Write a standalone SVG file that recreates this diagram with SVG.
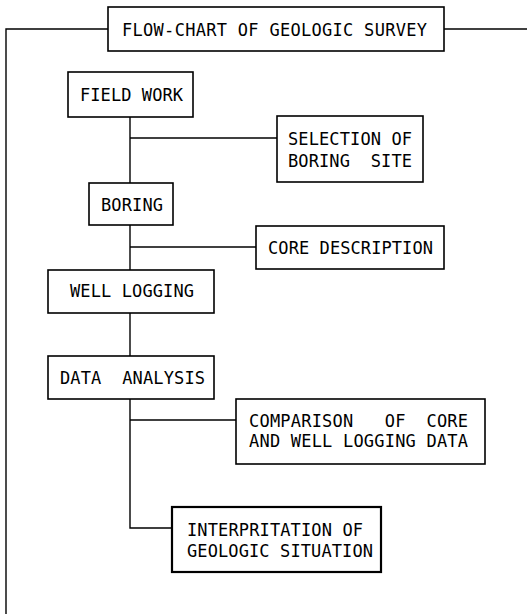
<svg xmlns="http://www.w3.org/2000/svg" width="527" height="614" viewBox="0 0 527 614">
<style>
.box{fill:#fff;stroke:#000;stroke-width:1.6}
.thick{stroke-width:2.2}
.ln{fill:none;stroke:#000;stroke-width:1.4}
.t{font-family:"DejaVu Sans Mono","Liberation Mono",monospace;font-size:17px;fill:#000;white-space:pre}
</style>
<rect width="527" height="614" fill="#fff"/>
<g id="connectors">
<path class="ln" d="M108 29 H6 V614"/>
<path class="ln" d="M444 29 H527"/>
<path class="ln" d="M130 117 V183"/>
<path class="ln" d="M130 138 H277"/>
<path class="ln" d="M130 225 V270"/>
<path class="ln" d="M130 247 H256"/>
<path class="ln" d="M130 313 V356"/>
<path class="ln" d="M130 399 V528 H172"/>
<path class="ln" d="M130 420 H236"/>
</g>
<g id="title">
<rect class="box" x="108" y="7" width="336" height="44"/>
<text class="t" x="122" y="36" textLength="305" lengthAdjust="spacing">FLOW-CHART OF GEOLOGIC SURVEY</text>
</g>
<g id="field-work">
<rect class="box" x="68" y="72" width="125" height="45"/>
<text class="t" x="80" y="101" textLength="103" lengthAdjust="spacing">FIELD WORK</text>
</g>
<g id="selection">
<rect class="box" x="277" y="116" width="146" height="66"/>
<text class="t" x="288" y="145" textLength="124" lengthAdjust="spacing">SELECTION OF</text>
<text class="t" x="288" y="167" textLength="124" lengthAdjust="spacing">BORING  SITE</text>
</g>
<g id="boring">
<rect class="box" x="89" y="183" width="84" height="42"/>
<text class="t" x="101" y="211" textLength="62" lengthAdjust="spacing">BORING</text>
</g>
<g id="core-description">
<rect class="box" x="256" y="226" width="188" height="43"/>
<text class="t" x="268" y="254" textLength="165" lengthAdjust="spacing">CORE DESCRIPTION</text>
</g>
<g id="well-logging">
<rect class="box" x="48" y="270" width="166" height="43"/>
<text class="t" x="70" y="297" textLength="124" lengthAdjust="spacing">WELL LOGGING</text>
</g>
<g id="data-analysis">
<rect class="box" x="48" y="356" width="166" height="43"/>
<text class="t" x="60" y="384" textLength="145" lengthAdjust="spacing">DATA  ANALYSIS</text>
</g>
<g id="comparison">
<rect class="box" x="236" y="399" width="249" height="65"/>
<text class="t" x="249" y="426.5" textLength="219" lengthAdjust="spacing">COMPARISON   OF  CORE</text>
<text class="t" x="249" y="447" textLength="219" lengthAdjust="spacing">AND WELL LOGGING DATA</text>
</g>
<g id="interpretation">
<rect class="box thick" x="172" y="507" width="209" height="65"/>
<text class="t" x="187" y="535.5" textLength="176" lengthAdjust="spacing">INTERPRITATION OF</text>
<text class="t" x="187" y="556.5" textLength="186" lengthAdjust="spacing">GEOLOGIC SITUATION</text>
</g>
</svg>
